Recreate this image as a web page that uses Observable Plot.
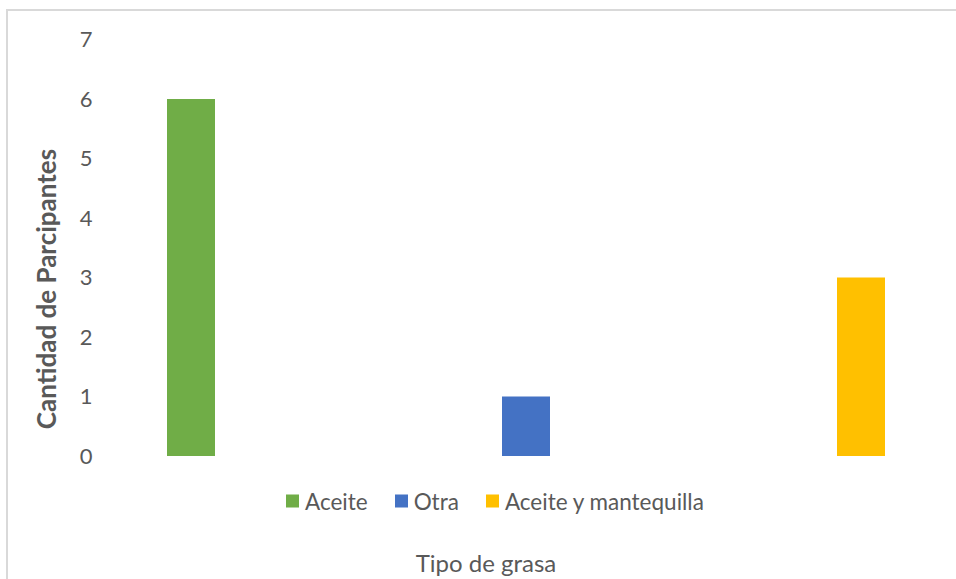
<!DOCTYPE html>
<html>
<head>
<meta charset="utf-8">
<script src="https://cdn.jsdelivr.net/npm/d3@7"></script>
<script src="https://cdn.jsdelivr.net/npm/@observablehq/plot@0.6"></script>
<style>
  html, body { margin: 0; padding: 0; background: #fff; }
  #wrap { position: relative; width: 956px; height: 579px; overflow: hidden; font-family: Lato, "Open Sans", sans-serif; color: #595959; }
  #frame { position: absolute; left: 6px; top: 9px; width: 1200px; height: 1000px; border: 2px solid #d9d9d9; box-sizing: border-box; }
  #chart { position: absolute; left: 0; top: 0; }
  #ytitle { position: absolute; left: 46px; top: 289px; transform: translate(-50%, -50%) rotate(-90deg); font-weight: bold; font-size: 26px; white-space: nowrap; }
  #xtitle { position: absolute; left: 486px; top: 562px; transform: translate(-50%, -50%); font-size: 24px; white-space: nowrap; }
  #legend { position: absolute; left: 286px; top: 501px; transform: translateY(-50%); display: flex; align-items: center; font-size: 22.5px; white-space: nowrap; }
  .item { display: flex; align-items: center; margin-right: 27px; }
  .sw { width: 13px; height: 13px; margin-right: 6px; }
</style>
</head>
<body>
<div id="wrap">
  <div id="frame"></div>
  <div id="chart"></div>
  <div id="ytitle"></div>
  <div id="legend"></div>
  <div id="xtitle"></div>
</div>
<script>
const categories = ["Aceite", "Otra", "Aceite y mantequilla"];
const values = [6, 1, 3];
const colors = ["#70AD47", "#4472C4", "#FFC000"];
const yTicks = [0, 1, 2, 3, 4, 5, 6, 7];
const yTitle = "Cantidad de Parcipantes";
const xTitle = "Tipo de grasa";

const data = categories.map((c, i) => ({cat: c, val: values[i]}));

const chart = Plot.plot({
  width: 956,
  height: 579,
  marginTop: 39.5,
  marginBottom: 123,
  marginLeft: 100,
  marginRight: 0,
  style: {fontFamily: "Lato, 'Open Sans', sans-serif", fontSize: "22px", color: "#595959", background: "transparent", overflow: "hidden"},
  x: {domain: categories, range: [23.5, 1028.5], paddingInner: 0.857, paddingOuter: 0.4285, axis: null},
  y: {domain: [0, 7], ticks: yTicks, tickSize: 0, tickPadding: 8, label: null, tickFormat: d => String(d)},
  color: {domain: categories, range: colors},
  marks: [
    Plot.barY(data, {x: "cat", y: "val", fill: "cat"})
  ]
});
document.getElementById("chart").appendChild(chart);

document.getElementById("ytitle").textContent = yTitle;
document.getElementById("xtitle").textContent = xTitle;
const legend = document.getElementById("legend");
categories.forEach((c, i) => {
  const item = document.createElement("div");
  item.className = "item";
  const sw = document.createElement("div");
  sw.className = "sw";
  sw.style.background = colors[i];
  const t = document.createElement("span");
  t.textContent = c;
  item.appendChild(sw);
  item.appendChild(t);
  legend.appendChild(item);
});
</script>
</body>
</html>
